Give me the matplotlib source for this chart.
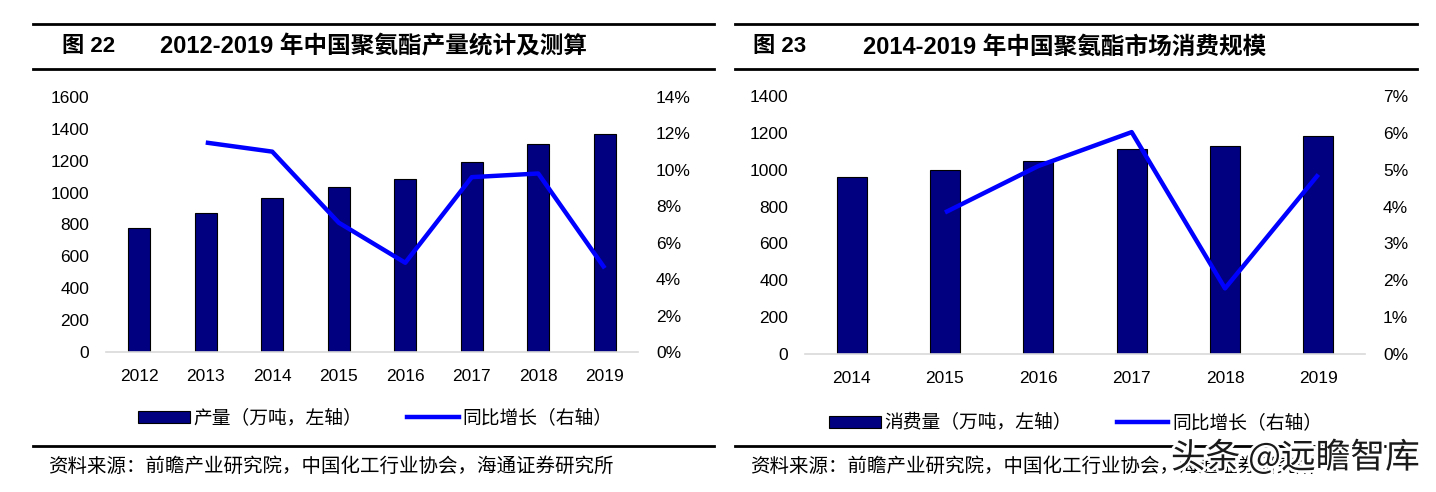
import matplotlib
matplotlib.use("Agg")
import matplotlib.pyplot as plt
from matplotlib.lines import Line2D
from matplotlib.patches import Patch
from matplotlib.ticker import FuncFormatter
import matplotlib.patheffects as pe

plt.rcParams['font.family'] = ['Liberation Sans', 'Noto Sans CJK SC', 'DejaVu Sans']

# ---- data: chart 22 ----
years_l = ['2012', '2013', '2014', '2015', '2016', '2017', '2018', '2019']
prod_l = [780, 872, 969, 1038, 1084, 1191, 1304, 1367]
growth_l = [None, 11.5, 11.0, 7.1, 4.9, 9.6, 9.8, 4.6]

# ---- data: chart 23 ----
years_r = ['2014', '2015', '2016', '2017', '2018', '2019']
cons_r = [959, 997, 1048, 1111, 1131, 1185]
growth_r = [None, 3.84, 5.1, 6.02, 1.78, 4.87]

title_l_num = '图 22'
title_l = '2012-2019 年中国聚氨酯产量统计及测算'
title_r_num = '图 23'
title_r = '2014-2019 年中国聚氨酯市场消费规模'
leg_bar_l = '产量（万吨，左轴）'
leg_bar_r = '消费量（万吨，左轴）'
leg_line = '同比增长（右轴）'
source = '资料来源：前瞻产业研究院，中国化工行业协会，海通证券研究所'

W, H = 1436, 492
fig = plt.figure(figsize=(W / 100, H / 100), dpi=100)
fig.patch.set_facecolor('white')

BAR = '#000080'
LINE = '#0000FF'
cjk = ['Noto Sans CJK SC', 'DejaVu Sans']


def fx(px):
    return px / W


def fy(py):
    return 1 - py / H


def hline(x0, x1, y, lw=2.0):
    fig.add_artist(Line2D([fx(x0), fx(x1)], [fy(y), fy(y)], color='black', lw=lw,
                          transform=fig.transFigure))


def panel(rect, cats, bars, growth, ymax, ystep, pmax, pstep, barw):
    l, t, r, b = rect
    ax = fig.add_axes([fx(l), fy(b), fx(r) - fx(l), fy(t) - fy(b)])
    x = list(range(len(cats)))
    ax.bar(x, bars, width=barw, color=BAR, edgecolor='black', linewidth=0.8, zorder=2)
    ax.set_xlim(-0.5, len(cats) - 0.5)
    ax.set_ylim(0, ymax)
    ax.set_yticks(list(range(0, ymax + 1, ystep)))
    ax.set_xticks(x)
    ax.set_xticklabels(cats)
    for s in ['top', 'right', 'left']:
        ax.spines[s].set_visible(False)
    ax.spines['bottom'].set_color('#d9d9d9')
    ax.spines['bottom'].set_linewidth(1.2)
    ax.tick_params(axis='both', length=0, labelsize=12.5, colors='black')
    ax.tick_params(axis='y', pad=12)
    ax.tick_params(axis='x', pad=12)
    ax2 = ax.twinx()
    xs = [i for i, g in zip(x, growth) if g is not None]
    gs = [g for g in growth if g is not None]
    ax2.plot(xs, gs, color=LINE, lw=3.2, solid_capstyle='butt', zorder=3)
    ax2.set_ylim(0, pmax)
    ax2.set_yticks(list(range(0, pmax + 1, pstep)))
    ax2.yaxis.set_major_formatter(FuncFormatter(lambda v, p: f'{int(v)}%'))
    for s in ax2.spines.values():
        s.set_visible(False)
    ax2.tick_params(axis='y', length=0, labelsize=12.5, pad=13, colors='black')
    return ax


leg_kw = dict(loc='center left', ncol=2, frameon=False, bbox_transform=fig.transFigure,
              borderpad=0, borderaxespad=0, handlelength=2.75, handleheight=0.65,
              handletextpad=0.2, prop={'family': cjk, 'size': 13.5, 'weight': 'light'})
handles = [Patch(facecolor=BAR, edgecolor='black', linewidth=0.8),
           Line2D([0], [0], color=LINE, lw=3.2)]

# ---------- left panel ----------
hline(33, 714, 24)
hline(33, 714, 69)
fig.text(fx(62), fy(47), title_l_num, fontsize=16, fontweight='bold', va='center', ha='left')
fig.text(fx(160), fy(47), title_l, fontsize=17, fontweight='bold', va='center', ha='left')
axl = panel((106, 97, 638, 352), years_l, prod_l, growth_l, 1600, 200, 14, 2, 0.33)
hline(33, 714, 446)
fig.text(fx(48), fy(466), source, fontsize=14, family=cjk, va='center', ha='left')
fig.legend(handles, [leg_bar_l, leg_line], bbox_to_anchor=(fx(138), fy(418)),
           columnspacing=2.4, **leg_kw)

# ---------- right panel ----------
hline(735, 1417, 24)
hline(735, 1417, 69)
fig.text(fx(753), fy(47), title_r_num, fontsize=16, fontweight='bold', va='center', ha='left')
fig.text(fx(863), fy(47), title_r, fontsize=17, fontweight='bold', va='center', ha='left')
axr = panel((805, 96, 1365, 354), years_r, cons_r, growth_r, 1400, 200, 7, 1, 0.32)
hline(735, 1417, 446)
fig.text(fx(750), fy(466), source, fontsize=14, family=cjk, va='center', ha='left')
fig.legend(handles, [leg_bar_r, leg_line], bbox_to_anchor=(fx(829), fy(423)),
           columnspacing=2.4, **leg_kw)

# watermark (drawn over the source line, as in the reference)
fig.text(fx(1420), fy(458), '头条 @远瞻智库', fontsize=25, family=cjk, color='#1a1a1a',
         fontweight='medium', ha='right', va='center', zorder=10,
         path_effects=[pe.withStroke(linewidth=4, foreground='white')])

fig.savefig('out.png', dpi=100)
